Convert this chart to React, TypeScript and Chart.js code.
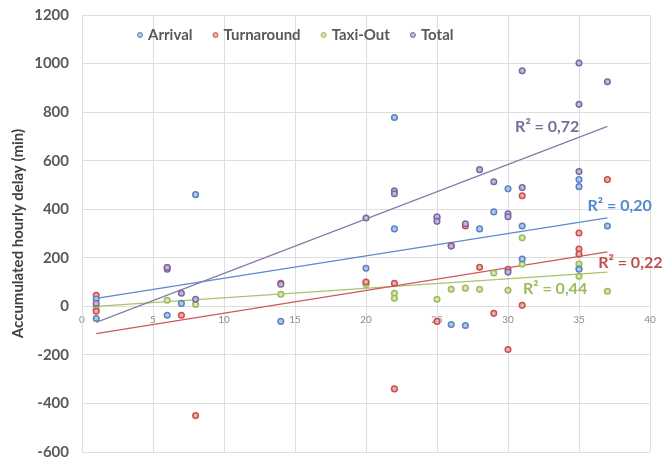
import React, { useEffect, useRef } from 'react';
import { Chart, registerables } from 'chart.js';

Chart.register(...registerables);

// ---- data ----
const arrivalX = [1, 1, 6, 7, 8, 14, 20, 22, 22, 25, 26, 27, 28, 29, 30, 31, 31, 35, 35, 35, 37];
const arrivalY = [30, -50, -37, 12, 460, -62, 157, 778, 319, 365, -75, -79, 319, 389, 484, 331, 195, 522, 493, 153, 331];

const turnaroundX = [1, 1, 6, 7, 8, 14, 20, 22, 22, 25, 26, 27, 28, 29, 30, 30, 31, 31, 35, 35, 35, 37];
const turnaroundY = [45, -20, 160, -37, -450, 95, 100, 95, -340, -62, 250, 331, 161, -29, 153, -178, 455, 4, 302, 236, 215, 522];

const taxiOutX = [1, 1, 6, 8, 14, 20, 20, 22, 22, 25, 26, 27, 28, 29, 30, 31, 31, 35, 35, 35, 37];
const taxiOutY = [0, -12, 25, 8, 50, 99, 90, 54, 33, 29, 70, 75, 70, 137, 66, 282, 174, 174, 157, 124, 62];

const totalX = [1, 6, 6, 7, 8, 14, 20, 22, 22, 25, 25, 26, 27, 28, 29, 30, 30, 30, 31, 31, 35, 35, 35, 37];
const totalY = [12, 153, 160, 54, 29, 91, 364, 476, 464, 369, 350, 248, 340, 563, 513, 381, 369, 141, 970, 489, 1002, 832, 555, 925];

// trend line end points (x from 1 to 37)
const trendX = [1, 37];
const arrivalTrend = [33, 364];
const turnaroundTrend = [-112, 224];
const taxiOutTrend = [0, 141];
const totalTrend = [-66, 741];

const seriesNames = ['Arrival', 'Turnaround', 'Taxi-Out', 'Total'];
const r2Texts = ['R² = 0,20', 'R² = 0,22', 'R² = 0,44', 'R² = 0,72'];

const xTicks = [0, 5, 10, 15, 20, 25, 30, 35, 40];
const yTicks = [-600, -400, -200, 0, 200, 400, 600, 800, 1000, 1200];

// ---- styling ----
const BORDER = ['#5a84c4', '#c9504d', '#9bbb59', '#7d69a0'];
const FILL = ['#b2c8e6', '#eab0ae', '#d6e4b8', '#c4b8d8'];
const LINE = ['#5a8ad0', '#d0585a', '#a8c46c', '#8a7aa8'];
const TEXTC = ['#4f8ad0', '#c0504d', '#9bbb59', '#7b6a9c'];
const FONT = 'Lato, "Open Sans", sans-serif';

// label anchors (data coordinates), left aligned
const r2Anchors = [
  [35.6, 412],
  [36.35, 178],
  [31.05, 70],
  [30.5, 741],
];

const pts = (xs: number[], ys: number[]) => xs.map((x, i) => ({ x, y: ys[i] }));

const overlayPlugin = {
  id: 'overlay',
  afterDatasetsDraw(chart: any) {
    const { ctx, chartArea, scales } = chart;
    const xs = scales.x;
    const ys = scales.y;
    ctx.save();
    // R² labels
    ctx.font = `bold 16px ${FONT}`;
    ctx.textBaseline = 'middle';
    ctx.textAlign = 'left';
    r2Texts.forEach((t, i) => {
      ctx.fillStyle = TEXTC[i];
      ctx.fillText(t, xs.getPixelForValue(r2Anchors[i][0]), ys.getPixelForValue(r2Anchors[i][1]));
    });
    // legend
    ctx.font = `bold 15px ${FONT}`;
    let px = chartArea.left + 58;
    const py = chartArea.top + 20;
    seriesNames.forEach((name, i) => {
      ctx.beginPath();
      ctx.arc(px, py, 2.5, 0, Math.PI * 2);
      ctx.fillStyle = FILL[i];
      ctx.fill();
      ctx.lineWidth = 1;
      ctx.strokeStyle = BORDER[i];
      ctx.stroke();
      ctx.fillStyle = '#595959';
      ctx.fillText(name, px + 8, py);
      px += 8 + ctx.measureText(name).width + 23;
    });
    ctx.restore();
  },
};

export default function App() {
  const ref = useRef<HTMLCanvasElement | null>(null);
  useEffect(() => {
    if (!ref.current) return;
    const pointDs = (i: number, xs: number[], ys: number[]) => ({
      type: 'scatter' as const,
      label: seriesNames[i],
      data: pts(xs, ys),
      showLine: false,
      pointRadius: 2.8,
      pointBorderWidth: 1.5,
      pointBackgroundColor: FILL[i],
      pointBorderColor: BORDER[i],
    });
    const trendDs = (i: number, ys: number[]) => ({
      type: 'scatter' as const,
      label: seriesNames[i] + ' trend',
      data: pts(trendX, ys),
      showLine: true,
      pointRadius: 0,
      borderWidth: 1.3,
      borderColor: LINE[i],
      backgroundColor: LINE[i],
    });
    const chart = new Chart(ref.current, {
      type: 'scatter',
      data: {
        datasets: [
          pointDs(3, totalX, totalY),
          pointDs(0, arrivalX, arrivalY),
          pointDs(1, turnaroundX, turnaroundY),
          pointDs(2, taxiOutX, taxiOutY),
          trendDs(3, totalTrend),
          trendDs(0, arrivalTrend),
          trendDs(1, turnaroundTrend),
          trendDs(2, taxiOutTrend),
        ] as any,
      },
      options: {
        responsive: false,
        animation: false,
        devicePixelRatio: 1,
        layout: { padding: { left: 0, right: 14, top: 15, bottom: 6 } },
        plugins: { legend: { display: false }, tooltip: { enabled: false } },
        scales: {
          x: {
            type: 'linear',
            position: { y: 0 } as any,
            min: 0,
            max: 40,
            afterBuildTicks: (s: any) => {
              s.ticks = xTicks.map((v) => ({ value: v }));
            },
            afterFit: (s: any) => {
              s.height = 0;
              s.paddingTop = 0;
              s.paddingBottom = 0;
            },
            grid: { color: '#dedede', lineWidth: 1, drawTicks: false },
            border: { color: '#dedede' },
            ticks: {
              color: '#8c8c8c',
              font: { family: FONT, size: 10 },
              padding: 7,
              maxRotation: 0,
              callback: (v: any) => String(v),
            },
          },
          y: {
            type: 'linear',
            min: -600,
            max: 1200,
            afterBuildTicks: (s: any) => {
              s.ticks = yTicks.map((v) => ({ value: v }));
            },
            afterFit: (s: any) => {
              s.width = 82;
              s.paddingTop = 0;
              s.paddingBottom = 0;
            },
            grid: { color: '#dedede', lineWidth: 1, drawTicks: false },
            border: { color: '#dedede' },
            ticks: {
              color: '#595959',
              font: { family: FONT, size: 15, weight: 'bold' },
              padding: 13,
              callback: (v: any) => String(v),
            },
            title: {
              display: true,
              text: 'Accumulated hourly delay (min)',
              color: '#404040',
              font: { family: FONT, size: 15, weight: 'bold' },
              padding: { top: 9, bottom: 4 },
            },
          },
        },
      },
      plugins: [overlayPlugin],
    });
    return () => chart.destroy();
  }, []);
  return (
    <div style={{ position: 'absolute', left: 0, top: 0, width: 664, height: 458, background: '#fff' }}>
      <canvas ref={ref} width={664} height={458} style={{ display: 'block' }} />
    </div>
  );
}
